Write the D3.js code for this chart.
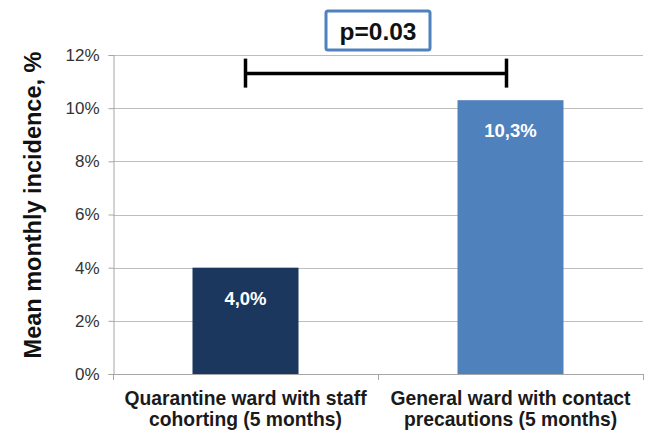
<!DOCTYPE html>
<html><head><meta charset="utf-8">
<script src="https://cdn.jsdelivr.net/npm/d3@7"></script>
<style>body{margin:0;background:#fff;}svg{display:block;font-family:Arial,"Liberation Sans",sans-serif;}</style>
</head><body>
<svg id="c" width="650" height="430"></svg>
<script>
const categories = [["Quarantine ward with staff","cohorting (5 months)"],["General ward with contact","precautions (5 months)"]];
const values = [4.0, 10.3];
const valueLabels = ["4,0%","10,3%"];
const colors = ["#1B375E","#4F81BD"];
const yTicks = [0,2,4,6,8,10,12];
const pLabel = "p=0.03";
const yTitle = "Mean monthly incidence, %";

const svg = d3.select("#c");
const L=113, R=643, T=55, B=374;
const x = d3.scaleBand().domain([0,1]).range([L,R]).paddingInner(0).paddingOuter(0);
const y = d3.scaleLinear().domain([0,12]).range([B,T]);
const bw = x.bandwidth()*0.4;

// gridlines
svg.append("g").selectAll("line").data(yTicks.filter(d=>d>0)).join("line")
  .attr("x1",L).attr("x2",R).attr("y1",d=>Math.round(y(d))+0.5).attr("y2",d=>Math.round(y(d))+0.5)
  .attr("stroke","#BDBDBD").attr("stroke-width",1);

// y axis
const ya = svg.append("g").attr("transform",`translate(${L+0.5},0)`)
  .call(d3.axisLeft(y).tickValues(yTicks).tickFormat(d=>d+"%").tickSize(5).tickPadding(9));
ya.select(".domain").attr("stroke","#A6A6A6");
ya.selectAll(".tick line").attr("stroke","#A6A6A6");
ya.selectAll(".tick text").attr("font-size",17).attr("fill","#333").attr("font-family","Arial,'Liberation Sans',sans-serif");

// x axis
svg.append("line").attr("x1",L).attr("x2",R).attr("y1",B+0.5).attr("y2",B+0.5).attr("stroke","#A6A6A6");
svg.append("g").selectAll("line").data([L,x(1),R]).join("line")
  .attr("x1",d=>Math.round(d)+0.5).attr("x2",d=>Math.round(d)+0.5).attr("y1",B).attr("y2",B+6).attr("stroke","#A6A6A6");

// bars
svg.append("g").selectAll("rect").data(values).join("rect")
  .attr("x",(d,i)=>x(i)+x.bandwidth()/2-bw/2).attr("width",bw)
  .attr("y",d=>y(d)).attr("height",d=>B-y(d)).attr("fill",(d,i)=>colors[i]);

// value labels
svg.append("g").selectAll("text").data(values).join("text")
  .attr("x",(d,i)=>x(i)+x.bandwidth()/2).attr("y",d=>y(d)+37)
  .attr("text-anchor","middle").attr("fill","#fff").attr("font-weight","bold").attr("font-size",18.5)
  .text((d,i)=>valueLabels[i]);

// category labels
const cl = svg.append("g").selectAll("text").data(categories).join("text")
  .attr("x",(d,i)=>x(i)+x.bandwidth()/2).attr("y",405)
  .attr("text-anchor","middle").attr("font-weight","bold").attr("font-size",19.3).attr("fill","#1a1a1a");
cl.selectAll("tspan").data(d=>d).join("tspan")
  .attr("x",function(){return d3.select(this.parentNode).attr("x");})
  .attr("dy",(d,i)=>i===0?0:21).text(d=>d);

// y title
svg.append("text").attr("transform","translate(41,205) rotate(-90)")
  .attr("text-anchor","middle").attr("font-weight","bold").attr("font-size",23.5).attr("fill","#111")
  .text(yTitle);

// significance bracket
const bx1 = x(0)+x.bandwidth()/2, bx2 = x(1)+x.bandwidth()/2-4, by = y(11.3);
const br = svg.append("g").attr("stroke","#000").attr("stroke-width",3.5);
br.append("line").attr("x1",bx1).attr("x2",bx2).attr("y1",by).attr("y2",by);
br.append("line").attr("x1",bx1).attr("x2",bx1).attr("y1",by-15).attr("y2",by+14);
br.append("line").attr("x1",bx2).attr("x2",bx2).attr("y1",by-15).attr("y2",by+14);

// p box
svg.append("rect").attr("x",326).attr("y",11).attr("width",104).attr("height",39).attr("rx",2)
  .attr("fill","#fff").attr("stroke","#4F81BD").attr("stroke-width",3);
svg.append("text").attr("x",378).attr("y",40).attr("text-anchor","middle")
  .attr("font-weight","bold").attr("font-size",24.5).attr("fill","#111").text(pLabel);
</script>
</body></html>
